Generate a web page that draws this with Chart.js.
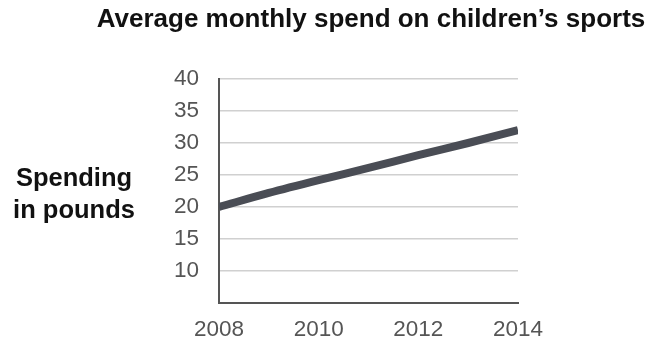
<!DOCTYPE html>
<html>
<head>
<meta charset="utf-8">
<script src="https://cdn.jsdelivr.net/npm/chart.js@4.4.0/dist/chart.umd.min.js"></script>
<style>
  html, body { margin: 0; padding: 0; background: #fff; }
  #wrap { position: relative; width: 656px; height: 341px; }
</style>
</head>
<body>
<div id="wrap"><canvas id="grafico" width="656" height="341"></canvas></div>
<script>
// dados do gráfico
const anos = [2008, 2009, 2010, 2011, 2012, 2013, 2014];
const gastoMensal = [20, 22.2, 24.2, 26.1, 28.1, 30.0, 32.0];
const ticksX = [2008, 2010, 2012, 2014];
const ticksY = [10, 15, 20, 25, 30, 35, 40];
const titulo = 'Average monthly spend on children\u2019s sports';
const rotuloY = ['Spending', 'in pounds'];

// título e rótulo do eixo Y desenhados à mão (sem rotação)
const textosPlugin = {
  id: 'textos',
  afterDraw(chart) {
    const { ctx } = chart;
    ctx.save();
    ctx.fillStyle = '#111';
    ctx.textAlign = 'center';
    ctx.textBaseline = 'middle';
    ctx.font = 'bold 26px "Liberation Sans", Arial, sans-serif';
    ctx.fillText(titulo, 371, 20);
    ctx.font = 'bold 25.5px "Liberation Sans", Arial, sans-serif';
    ctx.fillText(rotuloY[0], 74, 179);
    ctx.fillText(rotuloY[1], 74, 211);
    ctx.restore();
  }
};

const fonteTick = { family: '"Liberation Sans", Arial, sans-serif', size: 22.5 };

new Chart(document.getElementById('grafico'), {
  type: 'line',
  data: {
    datasets: [{
      data: anos.map((a, i) => ({ x: a, y: gastoMensal[i] })),
      borderColor: '#4a4d55',
      borderWidth: 8,
      pointRadius: 0,
      tension: 0.4,
      cubicInterpolationMode: 'monotone',
    }],
  },
  options: {
    responsive: false,
    animation: false,
    layout: { padding: { top: 79, right: 138, left: 0, bottom: 0 } },
    plugins: { legend: { display: false }, tooltip: { enabled: false } },
    scales: {
      x: {
        type: 'linear',
        min: 2008, max: 2014,
        afterBuildTicks: (s) => { s.ticks = ticksX.map(v => ({ value: v })); },
        afterFit: (s) => { s.height = 38; },
        grid: { display: false },
        border: { color: '#555', width: 2 },
        ticks: { color: '#555', font: fonteTick, padding: 5, maxRotation: 0, callback: (v) => String(v) },
      },
      y: {
        min: 5, max: 40,
        afterBuildTicks: (s) => { s.ticks = ticksY.map(v => ({ value: v })); },
        afterFit: (s) => { s.width = 219; },
        grid: { color: '#d0d0d0', lineWidth: 1.5, drawTicks: false },
        border: { color: '#555', width: 2 },
        ticks: { color: '#555', font: fonteTick, padding: 20 },
      },
    },
  },
  plugins: [textosPlugin],
});
</script>
</body>
</html>
